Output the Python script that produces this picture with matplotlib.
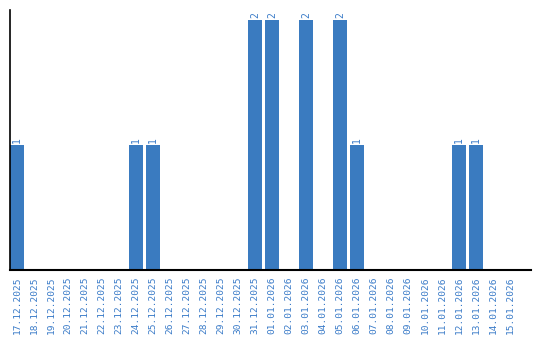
import matplotlib
matplotlib.use('Agg')
import matplotlib.pyplot as plt
import numpy as np

dates = ['17.12.2025', '18.12.2025', '19.12.2025', '20.12.2025', '21.12.2025',
         '22.12.2025', '23.12.2025', '24.12.2025', '25.12.2025', '26.12.2025',
         '27.12.2025', '28.12.2025', '29.12.2025', '30.12.2025', '31.12.2025',
         '01.01.2026', '02.01.2026', '03.01.2026', '04.01.2026', '05.01.2026',
         '06.01.2026', '07.01.2026', '08.01.2026', '09.01.2026', '10.01.2026',
         '11.01.2026', '12.01.2026', '13.01.2026', '14.01.2026', '15.01.2026']
counts = [1, 0, 0, 0, 0, 0, 0, 1, 1, 0,
          0, 0, 0, 0, 2, 2, 0, 2, 0, 2,
          1, 0, 0, 0, 0, 0, 1, 1, 0, 0]

bar_color = '#3a7bc0'
text_color = '#3a7bc8'

fig = plt.figure(figsize=(5.4, 3.4), dpi=100)
ax = fig.add_axes([10/540, 70/340, 521/540, 260/340])

x = np.arange(len(dates))
w = 14/17
bars = ax.bar(x, counts, width=w, color=bar_color)
for xi, c in zip(x, counts):
    if c > 0:
        ax.text(xi, c + 0.02, str(c), rotation=90, ha='center', va='bottom',
                color=text_color, fontsize=7, family='DejaVu Sans Mono')

ax.set_xlim(-w/2, -w/2 + 521/17)
ax.set_ylim(0, 2.08)
ax.set_xticks(x)
ax.set_xticklabels(dates, rotation=90, color=text_color, fontsize=6.8,
                   family='DejaVu Sans Mono')
ax.tick_params(axis='x', length=0, pad=5)
ax.set_yticks([])
for s in ['top', 'right']:
    ax.spines[s].set_visible(False)
ax.spines['left'].set_linewidth(1.2)
ax.spines['bottom'].set_linewidth(1.5)

fig.savefig('out.png', dpi=100)
